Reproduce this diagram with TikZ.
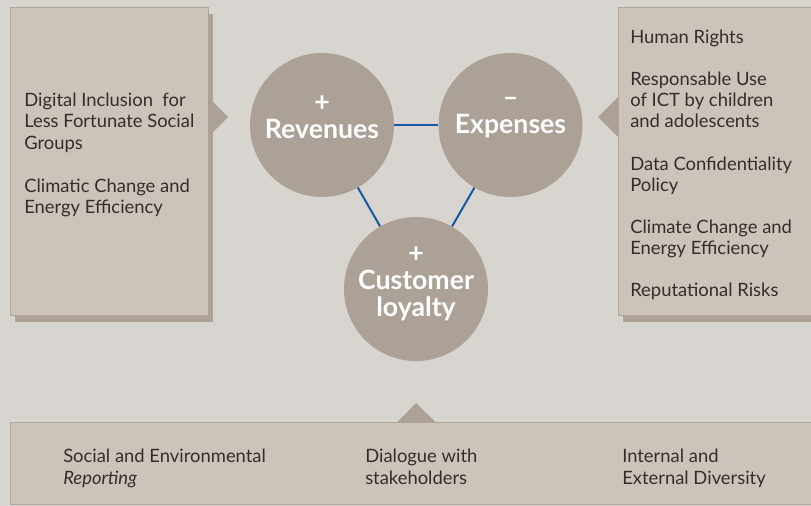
\documentclass[tikz,border=0pt]{standalone}
\usepackage{fontspec}
\setmainfont{Lato}
\definecolor{bgcol}{RGB}{216,212,208}
\definecolor{boxfill}{RGB}{204,196,187}
\definecolor{boxline}{RGB}{176,166,155}
\definecolor{shadecol}{RGB}{172,162,152}
\definecolor{circfill}{RGB}{172,161,150}
\definecolor{linkblue}{RGB}{22,88,166}
\definecolor{textcol}{RGB}{50,46,46}
\tikzset{
  panel/.style={fill=boxfill, draw=boxline, line width=0.75pt},
  panelshade/.style={fill=shadecol},
  pointer/.style={fill=circfill},
  topic/.style={anchor=north west, inner sep=0pt, align=left, text=textcol, font=\fontsize{13.8}{15.85}\selectfont},
  driver/.style={circle, fill=circfill, minimum size=108pt, inner sep=0pt},
  drvtext/.style={text=white, align=center, inner sep=0pt, font=\bfseries\fontsize{20}{20.3}\selectfont},
  link/.style={draw=linkblue, line width=1.5pt}
}
\begin{document}
\begin{tikzpicture}[x=0.75pt,y=0.75pt,yscale=-1,xscale=1]
%Background
\fill [bgcol] (0,0) rectangle (811,506);
\useasboundingbox (0,0) rectangle (811,506);
%Shape: left panel
\fill [panelshade] (15,14) rectangle (213,322);
\draw [panel] (10,8) rectangle (208,315);
\fill [pointer] (208,97) -- (228,117) -- (208,137) -- cycle;
%Shape: right panel
\fill [panelshade] (623,14) rectangle (830,322);
\draw [panel] (618,8) rectangle (830,315);
\fill [pointer] (618,97) -- (598,117) -- (618,137) -- cycle;
%Shape: bottom panel
\draw [panel] (10,422) rectangle (830,504.5);
\fill [pointer] (397,422.5) -- (416,403) -- (436,422.5) -- cycle;

%Circles
\node [driver] (rev) at (322,125) {};
\node [driver] (exp) at (510.5,125) {};
\node [driver] (loy) at (416,289) {};
\draw [link] (rev) -- (exp);
\draw [link] (rev) -- (loy);
\draw [link] (exp) -- (loy);
\node [drvtext] (revtxt) at (322,117.5) {+\\Revenues};
\node [drvtext] (exptxt) at (510.5,117.5) {–\\Expenses};
\node [drvtext] (loytxt) at (416,284) {+\\Customer\\loyalty};

% Text Node
\node [topic, font=\fontsize{13.8}{16.1}\selectfont] (lefttxt) at (24,92.5) {Digital Inclusion\ \ for\\Less Fortunate Social\\Groups\\[16.1pt]Climatic Change and\\Energy Efficiency};
% Text Node
\node [topic] (righttxt) at (630,29.5) {Human Rights\\[15.85pt]Responsable Use\\of ICT by children\\and adolescents\\[15.85pt]Data Confidentiality\\Policy\\[15.85pt]Climate Change and\\Energy Efficiency\\[15.85pt]Reputational Risks};
% Text Node
\node [topic, font=\fontsize{13.8}{16.3}\selectfont] (rep) at (63,448.5) {Social and Environmental\\\textit{Reporting}};
\node [topic, font=\fontsize{13.8}{16.3}\selectfont] (dia) at (365,448.5) {Dialogue with\\stakeholders};
\node [topic, font=\fontsize{13.8}{16.3}\selectfont] (div) at (622,448.5) {Internal and\\External Diversity};
\end{tikzpicture}
\end{document}
